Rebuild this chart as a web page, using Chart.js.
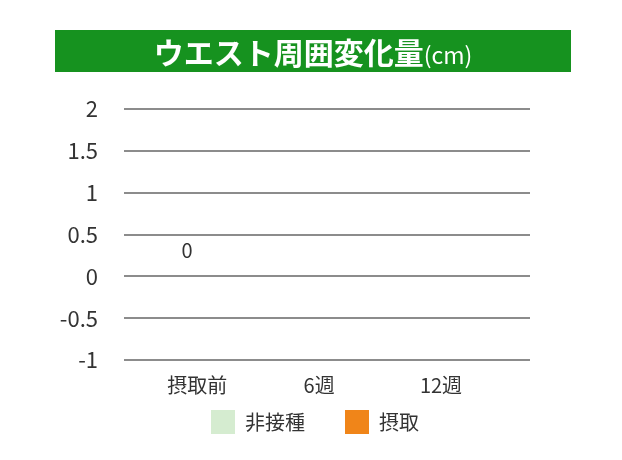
<!DOCTYPE html>
<html>
<head>
<meta charset="utf-8">
<script src="https://cdn.jsdelivr.net/npm/chart.js@4/dist/chart.umd.min.js"></script>
<style>
  body { margin: 0; background: #fff; }
  #wrap { position: relative; width: 622px; height: 460px; }
  #title {
    position: absolute; left: 55px; top: 30px; width: 516px; height: 42px;
    background: #16921f; color: #fff; text-align: center;
    font-family: "Noto Sans CJK JP", sans-serif; line-height: 42px;
  }
  #title b { font-size: 30px; font-weight: bold; }
  #title span { font-size: 23px; }
</style>
</head>
<body>
<div id="wrap">
  <div id="title"><b>ウエスト周囲変化量</b><span>(cm)</span></div>
  <canvas id="myChart" width="622" height="460"></canvas>
</div>
<script>
const categories = ['摂取前', '6週', '12週']
const seriesNames = ['非接種', '摂取']
const controlValues = [0, null, null]
const intakeValues = [null, null, null]
const yTicks = [-1, -0.5, 0, 0.5, 1, 1.5, 2]

const font = "'Noto Sans CJK JP', 'Noto Sans', sans-serif"

// value labels above bars
const valueLabels = {
    id: 'valueLabels',
    afterDatasetsDraw(chart) {
        const c = chart.ctx
        c.save()
        c.font = '20px ' + font
        c.fillStyle = '#333'
        c.textAlign = 'center'
        c.textBaseline = 'middle'
        chart.data.datasets.forEach((ds, i) => {
            chart.getDatasetMeta(i).data.forEach((el, j) => {
                const v = ds.data[j].y
                if (v === null) return
                c.fillText(String(v), el.x, el.y - 26)
            })
        })
        c.restore()
    }
}

// legend padding is wanted between items, not above/below them
const legendFix = {
    id: 'legendFix',
    afterInit(chart) {
        const lg = chart.legend
        const fit = lg.fit
        lg.fit = function () {
            fit.call(this)
            this.height = 50
        }
    },
    afterLayout(chart) {
        const lg = chart.legend
        lg.top -= 40
        lg.left += 45
        lg.right += 45
    }
}

const toPoints = arr => arr.map((v, i) => ({ x: i, y: v }))

const ctx = document.getElementById('myChart').getContext('2d');
new Chart(ctx, {
    type: 'bar',
    data: {
        datasets: [{
            label: seriesNames[0],
            data: toPoints(controlValues),
            backgroundColor: '#d5ecd0',
            categoryPercentage: 0.33,
            barPercentage: 0.9
        }, {
            label: seriesNames[1],
            data: toPoints(intakeValues),
            backgroundColor: '#f08519',
            categoryPercentage: 0.33,
            barPercentage: 0.9
        }]
    },
    options: {
        responsive: false,
        animation: false,
        layout: {
            padding: { top: 109, right: 92, left: 10, bottom: 0 }
        },
        plugins: {
            legend: {
                position: 'bottom',
                labels: {
                    boxWidth: 24,
                    boxHeight: 24,
                    padding: 40,
                    color: '#333',
                    font: { size: 20, family: font }
                }
            },
            tooltip: { enabled: false }
        },
        scales: {
            x: {
                type: 'linear',
                offset: false,
                min: -0.6,
                max: 2.73,
                afterBuildTicks: s => { s.ticks = categories.map((_, i) => ({ value: i })) },
                afterFit: s => { s.height = 50 },
                grid: { display: false },
                border: { display: false },
                ticks: {
                    color: '#333',
                    padding: 5,
                    maxRotation: 0,
                    font: { size: 20, family: font },
                    callback: v => categories[v]
                }
            },
            y: {
                min: -1,
                max: 2,
                afterBuildTicks: s => { s.ticks = yTicks.map(v => ({ value: v })) },
                afterFit: s => { s.width = 114 },
                grid: { color: '#8c8c8c', lineWidth: 2, drawTicks: false },
                border: { display: false },
                ticks: {
                    color: '#333',
                    padding: 26,
                    font: { size: 22, family: font },
                    callback: v => String(v)
                }
            }
        }
    },
    plugins: [valueLabels, legendFix]
})
</script>
</body>
</html>
